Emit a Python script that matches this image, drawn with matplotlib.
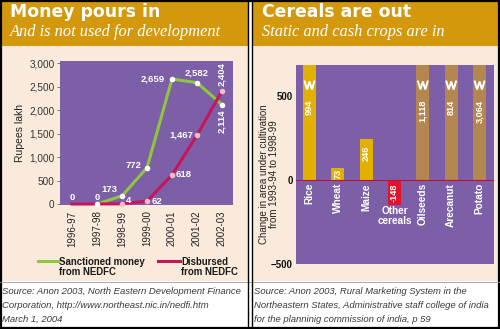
import matplotlib
matplotlib.use('Agg')
import matplotlib.pyplot as plt
from matplotlib.patches import Rectangle
from matplotlib.lines import Line2D

# ---------------- data ----------------
years = ['1996-97', '1997-98', '1998-99', '1999-00', '2000-01', '2001-02', '2002-03']
sanctioned = [0, 0, 173, 772, 2659, 2582, 2114]
disbursed = [0, 0, 4, 62, 618, 1467, 2404]
left_yticks = [0, 500, 1000, 1500, 2000, 2500, 3000]

crops = ['Rice', 'Wheat', 'Maize', 'Other\ncereals', 'Oilseeds', 'Arecanut', 'Potato']
area_change = [994, 73, 246, -148, 1118, 814, 3064]
crop_group = ['cereal', 'cereal', 'cereal', 'decline', 'cash', 'cash', 'cash']
right_yticks = [-500, 0, 500]

# ---------------- style ----------------
plt.rcParams['font.family'] = ['Liberation Sans', 'DejaVu Sans']
GOLD = '#D4980C'
BEIGE = '#FAEADB'
PURPLE = '#7C5FA6'
GREEN = '#8DC63F'
CRIMSON = '#C8145A'
BAR_COL = {'cereal': '#E2B000', 'decline': '#E0142C', 'cash': '#B3874F'}
PX = 0.72  # points per pixel

W, H = 500, 329
fig = plt.figure(figsize=(W / 100, H / 100), dpi=100)
fig.patch.set_facecolor('white')


def px_axes(x0, y0, x1, y1):
    return [x0 / W, 1 - y1 / H, (x1 - x0) / W, (y1 - y0) / H]


bg = fig.add_axes([0, 0, 1, 1])
bg.set_xlim(0, W)
bg.set_ylim(H, 0)
bg.axis('off')

# background blocks
bg.add_patch(Rectangle((0, 46), W, 235, color=BEIGE, lw=0))
bg.add_patch(Rectangle((0, 0), W, 46, color=GOLD, lw=0))
bg.add_patch(Rectangle((248, 0), 4, H, color='white', lw=0))
bg.plot([0, W], [281.5, 281.5], color='#9a9a9a', lw=0.6)
bg.plot([248, 248], [0, H], color='black', lw=1.0)
bg.plot([252, 252], [0, H], color='black', lw=1.0)
bg.add_patch(Rectangle((0.8, 0.8), W - 1.6, H - 1.6, fill=False, ec='black', lw=1.6))

# titles
title_kw = dict(color='white', fontfamily='DejaVu Sans', fontweight='bold', fontsize=12.4, va='baseline')
sub_kw = dict(color='white', fontfamily='Liberation Serif', fontstyle='italic', fontsize=11.8, va='baseline')
bg.text(10, 17, 'Money pours in', **title_kw)
bg.text(10, 36, 'And is not used for development', **sub_kw)
bg.text(262, 17, 'Cereals are out', **title_kw)
bg.text(262, 35.5, 'Static and cash crops are in', **sub_kw)

# sources
src_kw = dict(color='#3a3a3a', fontstyle='italic', fontsize=6.8, va='center', ha='left')
left_src = ['Source: Anon 2003, North Eastern Development Finance',
            'Corporation, http://www.northeast.nic.in/nedfi.htm',
            'March 1, 2004']
right_src = ['Source: Anon 2003, Rural Marketing System in the',
             'Northeastern States, Administrative staff college of india',
             'for the planninig commission of india, p 59']
for i, (a, b) in enumerate(zip(left_src, right_src)):
    bg.text(2, 292 + 13.7 * i, a, **src_kw)
    bg.text(254, 292 + 13.7 * i, b, **src_kw)

# legend (left)
bg.add_line(Line2D([38, 58], [261, 261], color=GREEN, lw=2.2))
bg.add_line(Line2D([158, 180], [261, 261], color=CRIMSON, lw=2.2))
leg_kw = dict(color='#1a1a1a', fontweight='bold', fontsize=6.9, va='center', ha='left', linespacing=1.0)
bg.text(59, 267, 'Sanctioned money\nfrom NEDFC', **leg_kw)
bg.text(181, 267, 'Disbursed\nfrom NEDFC', **leg_kw)

# axis titles
bg.text(20, 133, 'Rupees lakh', rotation=90, ha='center', va='center', fontsize=7.5, color='#222222')
bg.text(269, 174, 'Change in area under cultivation\nfrom 1993-94 to 1998-99', rotation=90,
        ha='center', va='center', fontsize=7, color='#222222', linespacing=1.05)

# ---------------- left chart ----------------
ax1 = fig.add_axes(px_axes(60, 61, 233, 205))
ax1.set_facecolor(PURPLE)
x = list(range(len(years)))
ax1.set_xlim(-0.48, 6.44)
ax1.set_ylim(-21, 3043)
for s in ax1.spines.values():
    s.set_visible(False)
ax1.set_yticks(left_yticks)
ax1.set_yticklabels([f'{v:,}' for v in left_yticks])
ax1.tick_params(axis='y', length=2.5, width=0.6, color='#666666', pad=1.5, labelsize=7.2, labelcolor='#333333')
ax1.set_xticks(x)
ax1.set_xticklabels(years, rotation=90)
ax1.tick_params(axis='x', length=0, pad=4, labelsize=7, labelcolor='#222222')

ax1.plot(x[1:], sanctioned[1:], color=GREEN, lw=2.2, zorder=2, clip_on=False)
ax1.plot(x, disbursed, color=CRIMSON, lw=2.2, zorder=3, clip_on=False)
ax1.plot(x[1:], sanctioned[1:], ls='none', marker='o', ms=4, mfc='white', mec='none', zorder=4, clip_on=False)
ax1.plot(x[2:], disbursed[2:], ls='none', marker='o', ms=4, mfc='#F4BBCB', mec='none', zorder=4, clip_on=False)

lab_kw = dict(color='white', fontweight='bold', fontsize=6.8, textcoords='offset points', zorder=5)
# (series, index, dx px, dy px, ha, va, rotation)
label_specs = [
    (disbursed, 0, 0, 2, 'center', 'bottom', 0),
    (sanctioned, 1, 0, 2, 'center', 'bottom', 0),
    (sanctioned, 2, -5, 2, 'right', 'bottom', 0),
    (sanctioned, 3, -5, 2, 'right', 'center', 0),
    (sanctioned, 4, -7, 0, 'right', 'center', 0),
    (sanctioned, 5, 0, 5, 'center', 'bottom', 0),
    (sanctioned, 6, 0, -5, 'center', 'top', 90),
    (disbursed, 2, 4, 3, 'left', 'center', 0),
    (disbursed, 3, 5, 0, 'left', 'center', 0),
    (disbursed, 4, 4, 0, 'left', 'center', 0),
    (disbursed, 5, -4, 0, 'right', 'center', 0),
    (disbursed, 6, 0, 5, 'center', 'bottom', 90),
]
for series, i, dx, dy, ha, va, rot in label_specs:
    ax1.annotate(f'{series[i]:,}', (x[i], series[i]), xytext=(dx * PX, dy * PX),
                 ha=ha, va=va, rotation=rot, annotation_clip=False, **lab_kw)

# ---------------- right chart ----------------
ax2 = fig.add_axes(px_axes(296, 65, 494, 264))
ax2.set_facecolor(PURPLE)
xc = list(range(len(crops)))
ymin, ymax = -500, 685
ax2.set_xlim(-0.476, 6.51)
ax2.set_ylim(ymin, ymax)
for s in ax2.spines.values():
    s.set_visible(False)
ax2.set_xticks([])
ax2.set_yticks(right_yticks)
ax2.tick_params(axis='y', length=0, pad=2.5, labelsize=7, labelcolor='#111111')
for t in ax2.get_yticklabels():
    t.set_fontweight('bold')

bw = 0.45
shown = [min(v, ymax) for v in area_change]
ax2.bar(xc, shown, width=bw, color=[BAR_COL[g] for g in crop_group], zorder=2)
ax2.axhline(0, color='#C0103A', lw=0.8, zorder=3)

px_per_unit = 199 / (ymax - ymin)
for i, (v, sv) in enumerate(zip(area_change, shown)):
    txt = f'{v:,}'
    kw = dict(color='white', fontweight='bold', fontsize=6.6, rotation=90, ha='center', zorder=5)
    if v > ymax:
        # truncated bar: break mark + label
        zz_y = 563
        h = 4 / px_per_unit
        ax2.plot([i - 0.17, i - 0.085, i, i + 0.085, i + 0.17],
                 [zz_y + h, zz_y - h, zz_y + h, zz_y - h, zz_y + h],
                 color='white', lw=1.4, zorder=4, solid_joinstyle='miter')
        ax2.text(i, 478, txt, va='top', **kw)
    elif v < 0:
        ax2.text(i, v / 2, txt, va='center', **kw)
    elif v * px_per_unit > 30:
        ax2.text(i, v - 7 / px_per_unit, txt, va='top', **kw)
    else:
        ax2.text(i, v / 2, txt, va='center', **kw)

for i, name in enumerate(crops):
    if '\n' in name:
        ax2.text(i, -155, name, ha='center', va='top', color='white', fontweight='bold',
                 fontsize=7.2, linespacing=1.05, zorder=5)
    else:
        ax2.text(i, -18, name, ha='center', va='top', rotation=90, color='white',
                 fontweight='bold', fontsize=7.3, zorder=5)

fig.savefig('out.png', dpi=100, facecolor=fig.get_facecolor())
